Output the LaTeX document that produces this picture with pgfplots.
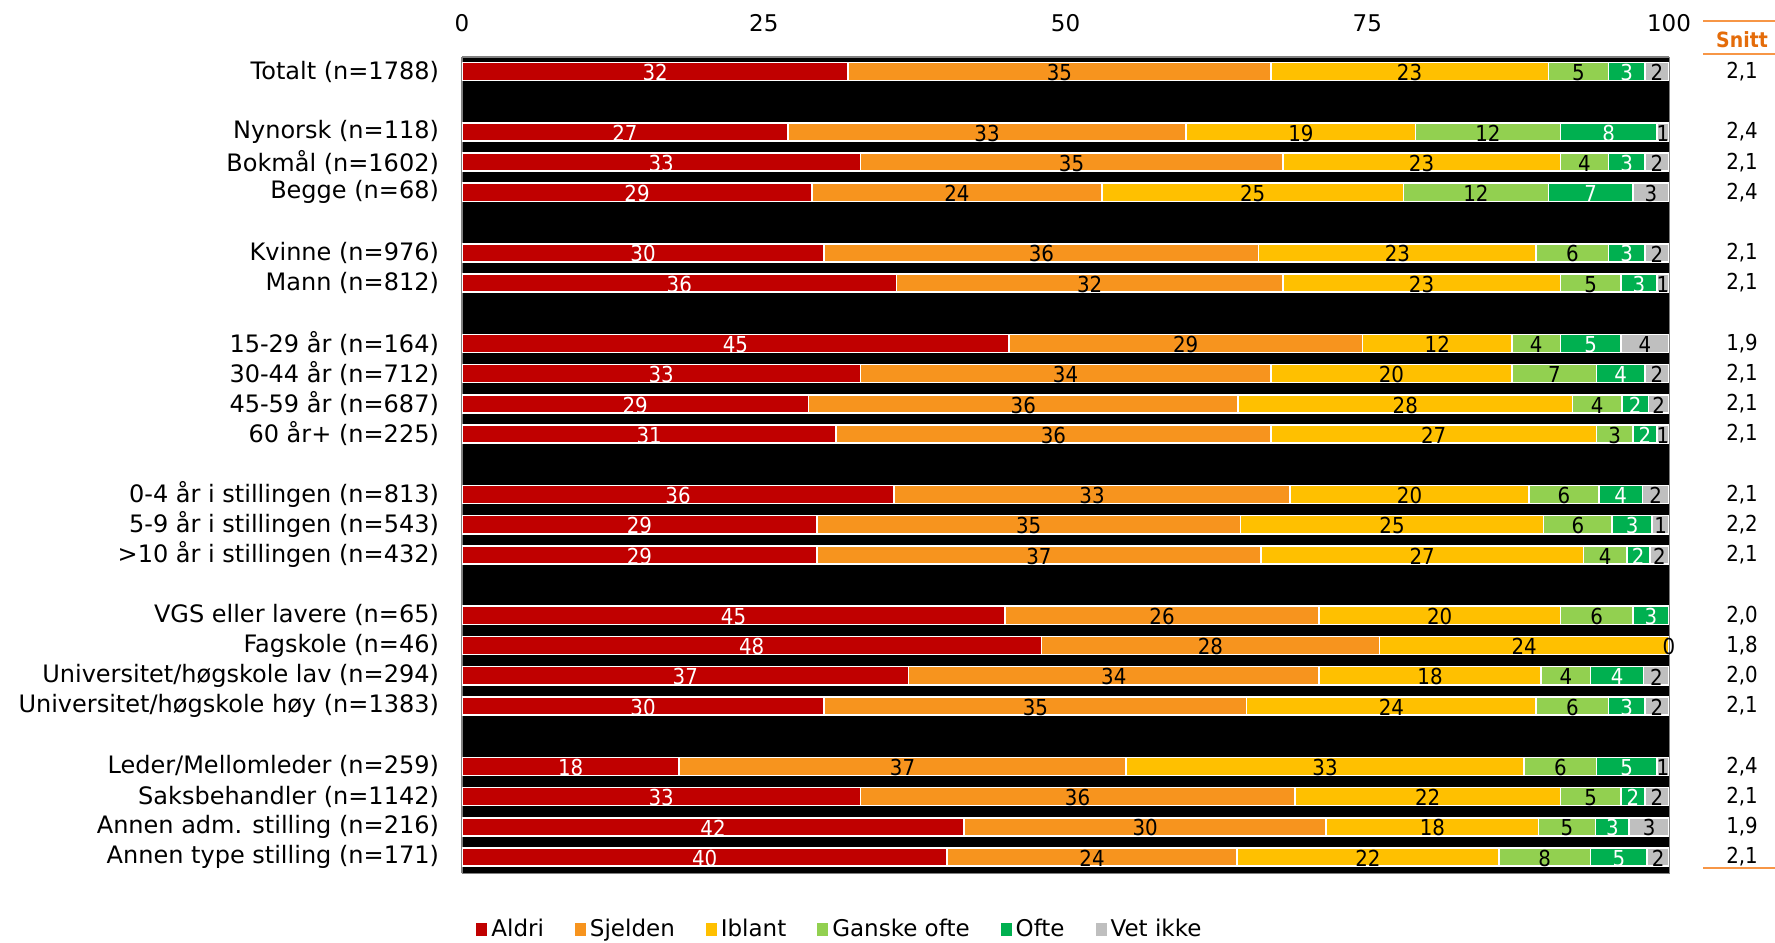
\documentclass[border=0pt]{standalone}
\usepackage{fontspec}
\setmainfont{DejaVu Sans}
\newfontfamily\condfont{DejaVu Sans Condensed}
\usepackage{pgfplots}
\usepackage{pgfplotstable}
\pgfplotsset{compat=1.18}

\definecolor{colAldri}{HTML}{C00000}
\definecolor{colSjelden}{HTML}{F7941E}
\definecolor{colIblant}{HTML}{FFC000}
\definecolor{colGanske}{HTML}{92D050}
\definecolor{colOfte}{HTML}{00B050}
\definecolor{colVet}{HTML}{BFBFBF}
\definecolor{axisgray}{HTML}{808080}
\definecolor{snittorange}{HTML}{E46C0A}
\definecolor{snittline}{HTML}{F79646}

\newcommand\catfont{\fontsize{12}{14}\selectfont}
\newcommand\tickfont{\fontsize{11.5}{13}\selectfont}
\newcommand\barfont{\condfont\fontsize{11}{12}\selectfont}
\newcommand\legfont{\fontsize{11.5}{13}\selectfont}

\pgfplotstableread[col sep=semicolon]{
y;A;S;I;G;O;V;VL;snitt;label
0;32;35;23;5;3;2;2;2,1;Totalt (n=1788)
-2;27;33;19;12;8;1;1;2,4;Nynorsk (n=118)
-3;33;35;23;4;3;2;2;2,1;Bokmål (n=1602)
-4;29;24;25;12;7;3;3;2,4;Begge (n=68)
-6;30;36;23;6;3;2;2;2,1;Kvinne (n=976)
-7;36;32;23;5;3;1;1;2,1;Mann (n=812)
-9;45.3;29.3;12.4;4;5;4;4;1,9;15-29 år (n=164)
-10;33;34;20;7;4;2;2;2,1;30-44 år (n=712)
-11;28.7;35.6;27.7;4.1;2.2;1.7;1.7;2,1;45-59 år (n=687)
-12;31;36;27;3;2;1;1;2,1;60 år+ (n=225)
-14;35.8;32.8;19.8;5.8;3.6;2.2;2.2;2,1;0-4 år i stillingen (n=813)
-15;29.4;35.1;25.1;5.7;3.3;1.4;1.4;2,2;5-9 år i stillingen (n=543)
-16;29.4;36.8;26.7;3.6;1.9;1.6;1.6;2,1;>10 år i stillingen (n=432)
-18;45;26;20;6;3;0;0;2,0;VGS eller lavere (n=65)
-19;48;28;24;0;0;0;0.01;1,8;Fagskole (n=46)
-20;37;34;18.4;4.1;4.4;2.1;2.1;2,0;Universitet/høgskole lav (n=294)
-21;30;35;24;6;3;2;2;2,1;Universitet/høgskole høy (n=1383)
-23;18;37;33;6;5;1;1;2,4;Leder/Mellomleder (n=259)
-24;33;36;22;5;2;2;2;2,1;Saksbehandler (n=1142)
-25;41.6;30;17.6;4.7;2.8;3.3;3.3;1,9;Annen adm. stilling (n=216)
-26;40.2;24;21.7;7.6;4.7;1.8;1.8;2,1;Annen type stilling (n=171)
}\data

% centres of the segments, for the value labels
\pgfplotstablecreatecol[create col/expr={\thisrow{A}/2}]{mA}{\data}
\pgfplotstablecreatecol[create col/expr={\thisrow{A}+\thisrow{S}/2}]{mS}{\data}
\pgfplotstablecreatecol[create col/expr={\thisrow{A}+\thisrow{S}+\thisrow{I}/2}]{mI}{\data}
\pgfplotstablecreatecol[create col/expr={\thisrow{A}+\thisrow{S}+\thisrow{I}+\thisrow{G}/2}]{mG}{\data}
\pgfplotstablecreatecol[create col/expr={\thisrow{A}+\thisrow{S}+\thisrow{I}+\thisrow{G}+\thisrow{O}/2}]{mO}{\data}
\pgfplotstablecreatecol[create col/expr={\thisrow{A}+\thisrow{S}+\thisrow{I}+\thisrow{G}+\thisrow{O}+\thisrow{V}/2}]{mV}{\data}

\pgfplotsset{
  seglabel/.style={draw=none, mark=none, forget plot,
    point meta=explicit,
    nodes near coords={\pgfmathfloatifflags{\pgfplotspointmeta}{0}{}{\pgfmathprintnumber[fixed,precision=0,assume math mode=true]{\pgfplotspointmeta}}},
    every node near coord/.style={anchor=center, font=\barfont, text=#1, inner sep=0pt, yshift=-0.6pt}},
  commonaxis/.style={
    at={(231pt,-28.5pt)}, anchor=north west,
    scale only axis, width=603.5pt, height=408pt,
    xmin=0, xmax=100, ymin=-26.53, ymax=0.48},
}

\begin{document}
\begin{tikzpicture}
\useasboundingbox (0,0) rectangle (887.5pt,-471pt);

\begin{axis}[
  commonaxis,
  xbar stacked, bar width=0.6,
  axis background/.style={fill=black},
  axis x line*=top, axis y line*=left,
  axis line style={draw=axisgray, line width=1pt},
  xtick={0,25,50,75,100}, ytick=data,
  yticklabels from table={\data}{label},
  major tick length=0pt,
  tick style={draw=none},
  xticklabel style={font=\tickfont, anchor=center, yshift=17pt},
  yticklabel style={font=\catfont, anchor=east, xshift=-8pt},
  /pgf/number format/assume math mode=true,
  legend columns=-1,
  legend style={draw=none, fill=none, font=\legfont,
    at={(axis description cs:0,0)}, anchor=west, xshift=4pt, yshift=-28pt,
    /tikz/every even column/.append style={column sep=13.5pt}},
  legend image code/.code={\fill[#1,draw=none] (0pt,-3.25pt) rectangle (5.5pt,3.25pt);},
]
\addplot[fill=colAldri, draw=white, line width=0.8pt] table[x=A, y=y] {\data};
\addlegendentry{Aldri}
\addplot[fill=colSjelden, draw=white, line width=0.8pt] table[x=S, y=y] {\data};
\addlegendentry{Sjelden}
\addplot[fill=colIblant, draw=white, line width=0.8pt] table[x=I, y=y] {\data};
\addlegendentry{Iblant}
\addplot[fill=colGanske, draw=white, line width=0.8pt] table[x=G, y=y] {\data};
\addlegendentry{Ganske ofte}
\addplot[fill=colOfte, draw=white, line width=0.8pt] table[x=O, y=y] {\data};
\addlegendentry{Ofte}
\addplot[fill=colVet, draw=white, line width=0.8pt] table[x=V, y=y] {\data};
\addlegendentry{Vet ikke}
\end{axis}

\begin{axis}[
  commonaxis,
  hide axis, clip=false,
]
\addplot[seglabel=white] table[x=mA, y=y, meta=A] {\data};
\addplot[seglabel=black] table[x=mS, y=y, meta=S] {\data};
\addplot[seglabel=black] table[x=mI, y=y, meta=I] {\data};
\addplot[seglabel=black] table[x=mG, y=y, meta=G] {\data};
\addplot[seglabel=white] table[x=mO, y=y, meta=O] {\data};
\addplot[seglabel=black] table[x=mV, y=y, meta=VL] {\data};
\addplot[draw=none, mark=none, point meta=explicit symbolic, nodes near coords,
  every node near coord/.style={anchor=center, font=\condfont\fontsize{11}{12}\selectfont, inner sep=0pt}]
  table[x expr=106.05, y=y, meta=snitt] {\data};
\draw[axisgray, line width=0.5pt] (rel axis cs:0,0) -- (rel axis cs:1,0) -- (rel axis cs:1,1);
\end{axis}

\draw[snittline, line width=1pt] (851.5pt,-10.35pt) -- (887.5pt,-10.35pt);
\draw[snittline, line width=1pt] (851.5pt,-27pt) -- (887.5pt,-27pt);
\draw[snittline, line width=1pt] (851.5pt,-434pt) -- (887.5pt,-434pt);
\node[font=\condfont\bfseries\fontsize{10.5}{12}\selectfont, text=snittorange] at (871pt,-20pt) {Snitt};
\end{tikzpicture}
\end{document}
